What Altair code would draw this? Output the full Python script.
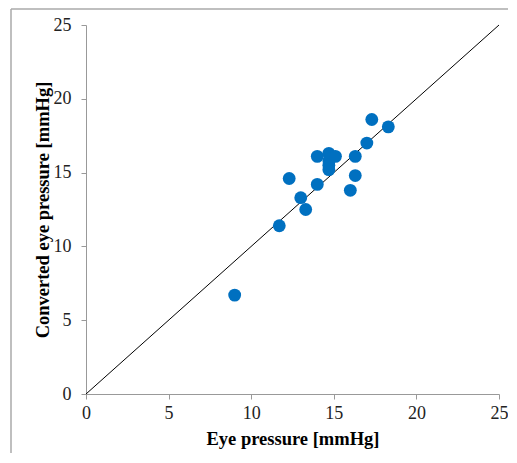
import altair as alt
import pandas as pd

eye_pressure = [9.0, 11.7, 12.3, 13.0, 13.3, 14.0, 14.0, 14.7, 14.7, 14.7, 14.7, 15.1, 16.0, 16.3, 16.3, 17.0, 17.3, 18.3]
converted = [6.7, 11.4, 14.6, 13.3, 12.5, 16.1, 14.2, 16.3, 15.8, 15.5, 15.2, 16.1, 13.8, 14.8, 16.1, 17.0, 18.6, 18.1]
line_x = [0, 25]
line_y = [0, 25]
ticks = [0, 5, 10, 15, 20, 25]

pts = pd.DataFrame({"x": eye_pressure, "y": converted})
ln = pd.DataFrame({"x": line_x, "y": line_y})

FONT = "Liberation Serif"

xscale = alt.Scale(domain=[0, 25], nice=False, zero=True)
yscale = alt.Scale(domain=[0, 25], nice=False, zero=True)

xaxis = alt.Axis(values=ticks, grid=False, title="Eye pressure [mmHg]",
                 labelFont=FONT, labelFontSize=18, labelColor="#222222",
                 titleFont=FONT, titleFontSize=18.5, titleFontWeight="bold", titleColor="#000000",
                 domainColor="#999999", tickColor="#999999", tickSize=5, labelPadding=5,
                 titlePadding=7, labelFlush=False)
yaxis = alt.Axis(values=ticks, grid=False, title="Converted eye pressure [mmHg]",
                 labelFont=FONT, labelFontSize=18, labelColor="#222222",
                 titleFont=FONT, titleFontSize=18.5, titleFontWeight="bold", titleColor="#000000",
                 domainColor="#999999", tickColor="#999999", tickSize=5, labelPadding=10,
                 titlePadding=1, labelFlush=False)

line = alt.Chart(ln).mark_line(color="#000000", strokeWidth=1).encode(
    x=alt.X("x:Q", scale=xscale, axis=xaxis),
    y=alt.Y("y:Q", scale=yscale, axis=yaxis),
)

points = alt.Chart(pts).mark_circle(color="#0070C0", opacity=1, size=165).encode(
    x=alt.X("x:Q", scale=xscale),
    y=alt.Y("y:Q", scale=yscale),
)

border_v = alt.Chart(pd.DataFrame({"a": [0]})).mark_rule(color="#aaaaaa", strokeWidth=1.5).encode(
    x=alt.value(-75), y=alt.value(-16), y2=alt.value(500)
)
border_h = alt.Chart(pd.DataFrame({"a": [0]})).mark_rule(color="#aaaaaa", strokeWidth=1.5).encode(
    x=alt.value(-75), x2=alt.value(600), y=alt.value(-16)
)

chart = alt.layer(border_v, border_h, line, points).properties(
    width=413, height=369,
    autosize=alt.AutoSizeParams(type="none"),
    padding={"left": 78, "top": 17, "right": 9, "bottom": 59},
).configure_view(stroke=None)

chart.save("out.html", embed_options={"renderer": "svg", "actions": False})
